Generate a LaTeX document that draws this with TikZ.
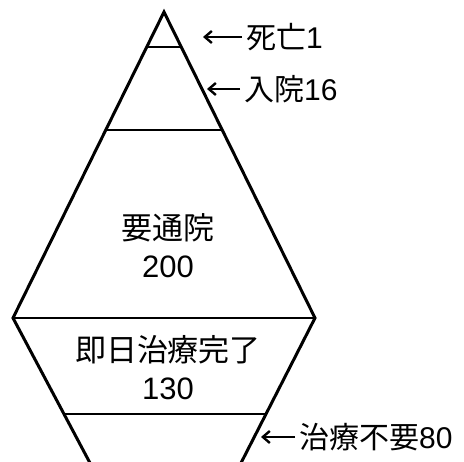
\documentclass[tikz,border=0pt]{standalone}
\usepackage{fontspec}
\setmainfont{Noto Sans CJK JP}
\newfontfamily\digf{Liberation Sans}
\usetikzlibrary{arrows.meta}
\begin{document}
\begin{tikzpicture}[x=1pt,y=-1pt,
  edge/.style={line width=3pt,line join=miter,line cap=round},
  band/.style={line width=2.6pt},
  lbl/.style={anchor=west,inner sep=0pt,font=\fontsize{30}{32}\selectfont},
  inner/.style={align=center,inner sep=0pt,font=\fontsize{31}{38}\selectfont},
  pointer/.style={line width=2.4pt,-{Straight Barb[length=7pt,width=12pt,line width=2.4pt]}}]
\useasboundingbox (0,0) rectangle (464,462);
% outline
\coordinate (A) at (164,12);
\coordinate (L) at (13,318);
\coordinate (R) at (315,318);
\coordinate (BL) at (90,463);
\coordinate (BR) at (241,463);
\draw[edge] (BL) -- (L) -- (A) -- (R) -- (BR);
% bands
\coordinate (h1l) at (146.7,47);  \coordinate (h1r) at (181.3,47);
\coordinate (h2l) at (105.6,130); \coordinate (h2r) at (222.4,130);
\coordinate (h4l) at (64.4,414);  \coordinate (h4r) at (266.3,414);
\draw[band] (h1l) -- (h1r);
\draw[band] (h2l) -- (h2r);
\draw[band] (L) -- (R);
\draw[band] (h4l) -- (h4r);
% inner texts
\node[inner] (t1) at (168,246) {要通院\\{\digf 200}};
\node[inner] (t2) at (168,368) {即日治療完了\\{\digf 130}};
% side labels
\node[lbl] (s1) at (246,37) {死亡{\digf 1}};
\node[lbl] (s2) at (244,89) {入院{\digf 16}};
\node[lbl] (s3) at (299,437) {治療不要{\digf 80}};
\coordinate (p1) at (203,37);
\coordinate (p2) at (207,89);
\coordinate (p3) at (261,437);
\draw[pointer] ([xshift=-4pt]s1.west) -- (p1);
\draw[pointer] ([xshift=-4pt]s2.west) -- (p2);
\draw[pointer] ([xshift=-4pt]s3.west) -- (p3);
\end{tikzpicture}
\end{document}
